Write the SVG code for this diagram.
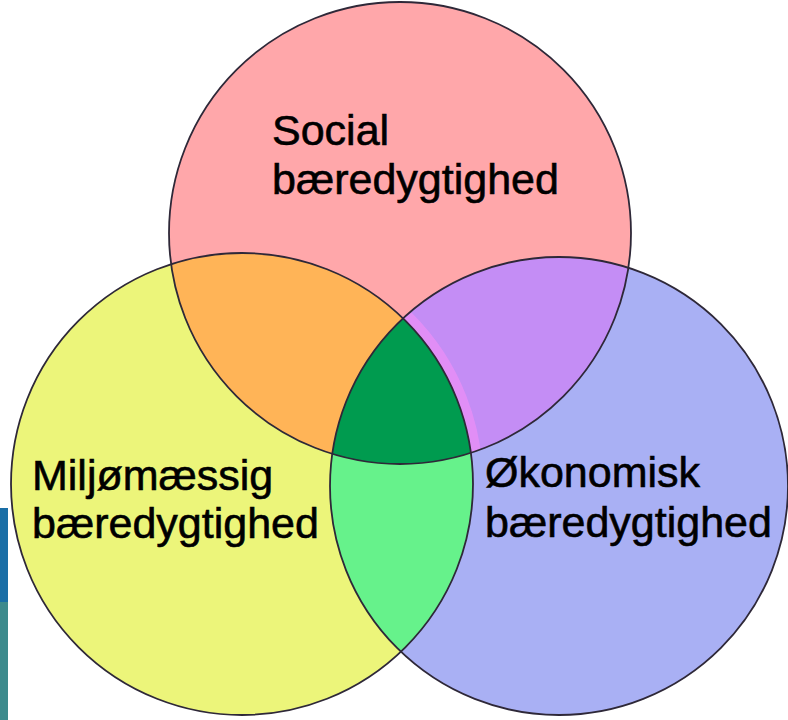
<svg xmlns="http://www.w3.org/2000/svg" width="788" height="720" viewBox="0 0 788 720">
  <style>
    .lbl { font-family: "Liberation Sans", Arial, sans-serif; font-size: 43px; fill: #000; stroke: #000; stroke-width: 0.6; }
    .edge { fill: none; stroke: #2e2838; stroke-width: 1.8; }
  </style>
  <defs>
    <clipPath id="cTop"><circle cx="400" cy="233" r="231"/></clipPath>
    <clipPath id="cLeft"><circle cx="242" cy="484" r="231"/></clipPath>
    <clipPath id="cRight"><circle cx="559" cy="486" r="229"/></clipPath>
  </defs>
  <rect x="0" y="0" width="788" height="720" fill="#ffffff"/>
  <g id="photo-strip">
    <rect x="0" y="508" width="8" height="96" fill="#1a6ea6"/>
    <rect x="0" y="602" width="8" height="118" fill="#3d8a8c"/>
  </g>
  <g id="social">
    <circle cx="400" cy="233" r="231" fill="#ffa7aa"/>
  </g>
  <g id="miljo">
    <circle cx="242" cy="484" r="231" fill="#ecf57a"/>
  </g>
  <g id="okonomi">
    <circle cx="559" cy="486" r="229" fill="#a9b0f4"/>
  </g>
  <g id="social-miljo" clip-path="url(#cTop)">
    <circle cx="242" cy="484" r="231" fill="#ffb457"/>
  </g>
  <g id="social-okonomi" clip-path="url(#cTop)">
    <g clip-path="url(#cRight)">
      <circle cx="559" cy="486" r="229" fill="#c48df5"/>
      <circle cx="242" cy="484" r="236" fill="none" stroke="#e48ef6" stroke-width="10" opacity="0.9"/>
    </g>
  </g>
  <g id="miljo-okonomi" clip-path="url(#cLeft)">
    <circle cx="559" cy="486" r="229" fill="#66f28b"/>
  </g>
  <g id="center" clip-path="url(#cTop)">
    <g clip-path="url(#cLeft)">
      <circle cx="559" cy="486" r="229" fill="#009b4f"/>
    </g>
  </g>
  <g id="connectors">
    <circle class="edge" cx="400" cy="233" r="231"/>
    <circle class="edge" cx="242" cy="484" r="231"/>
    <circle class="edge" cx="559" cy="486" r="229"/>
  </g>
  <g id="labels">
    <text class="lbl" x="272" y="145">Social</text>
    <text class="lbl" x="272" y="194">bæredygtighed</text>
    <text class="lbl" x="32" y="490">Miljømæssig</text>
    <text class="lbl" x="32" y="538">bæredygtighed</text>
    <text class="lbl" x="485" y="487">Økonomisk</text>
    <text class="lbl" x="485" y="537">bæredygtighed</text>
  </g>
</svg>
